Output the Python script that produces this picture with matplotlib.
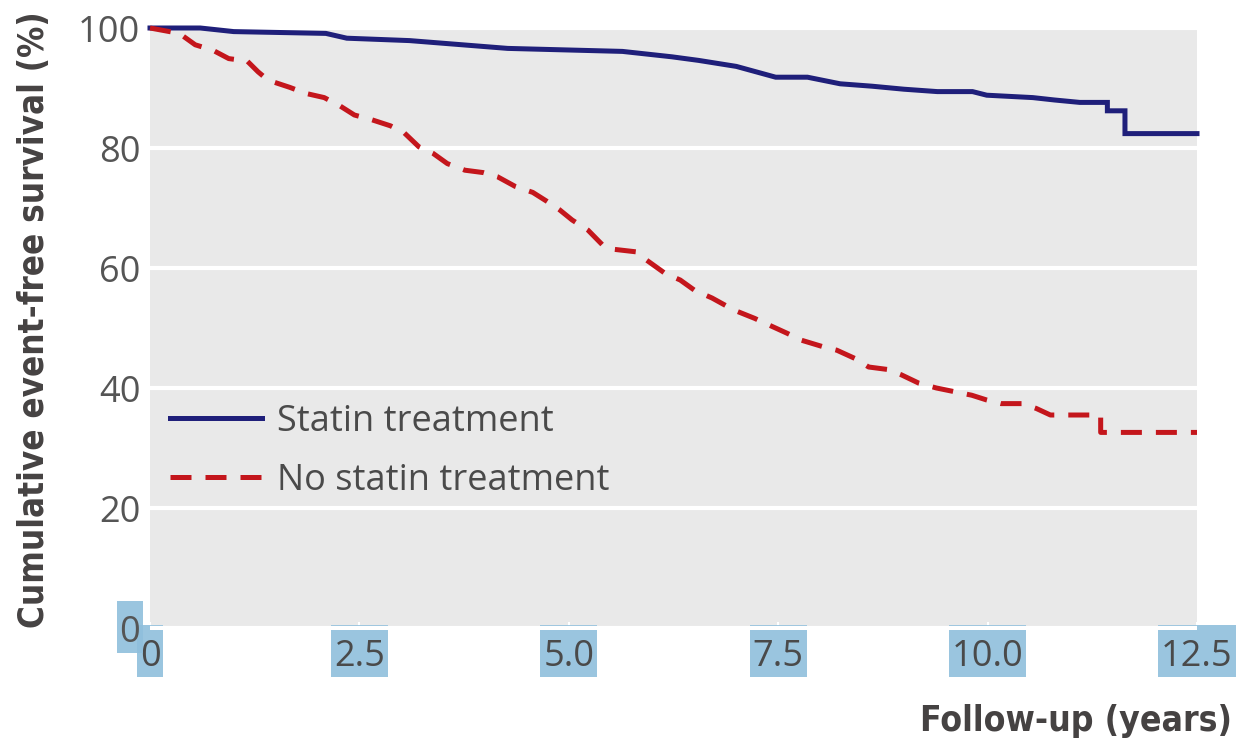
import matplotlib
matplotlib.use("Agg")
import matplotlib.pyplot as plt
from matplotlib.path import Path

# follow-up time (years) and event-free survival (%)
statin_t = [0, 0.6, 1.0, 2.1, 2.35, 3.1, 3.55, 4.27, 5.64, 6.23, 6.55, 7.0, 7.47, 7.85,
            8.24, 8.62, 9.0, 9.4, 9.82, 9.99, 10.54, 10.8, 11.1, 11.43, 11.43, 11.64,
            11.64, 12.5]
statin_s = [100, 100, 99.4, 99.1, 98.3, 97.9, 97.4, 96.6, 96.1, 95.2, 94.6, 93.6, 91.8,
            91.8, 90.7, 90.3, 89.8, 89.4, 89.4, 88.8, 88.4, 88.0, 87.6, 87.6, 86.2, 86.2,
            82.4, 82.4]

no_statin_t = [0, 0.35, 0.54, 0.75, 0.94, 1.16, 1.29, 1.41, 1.67, 1.86, 2.08, 2.27, 2.44,
               2.65, 2.87, 3.03, 3.21, 3.38, 3.55, 3.76, 3.98, 4.15, 4.36, 4.57, 4.74,
               4.89, 5.04, 5.23, 5.42, 5.55, 5.8, 5.93, 6.15, 6.33, 6.5, 6.71, 6.97, 7.22,
               7.39, 7.61, 7.77, 8.03, 8.2, 8.42, 8.58, 8.8, 8.97, 9.18, 9.39, 9.6, 9.81,
               9.99, 10.16, 10.41, 10.58, 10.75, 11.0, 11.35, 11.35, 12.5]
no_statin_s = [100, 99.1, 97.2, 96.3, 94.9, 94.5, 92.7, 91.3, 90.1, 89.1, 88.4, 87.0, 85.5,
               84.7, 83.7, 82.6, 80.2, 79.1, 77.4, 76.3, 75.9, 75.2, 73.6, 72.6, 71.1,
               69.7, 68.0, 66.3, 63.6, 63.1, 62.7, 61.3, 59.1, 58.0, 56.3, 55.0, 53.0,
               51.6, 50.5, 49.1, 48.0, 46.9, 46.3, 44.9, 43.5, 43.1, 42.2, 40.8, 40.0,
               39.4, 38.8, 38.0, 37.4, 37.4, 36.6, 35.5, 35.5, 35.5, 32.6, 32.6]

x_ticks = [0, 2.5, 5.0, 7.5, 10.0, 12.5]
x_tick_labels = ["0", "2.5", "5.0", "7.5", "10.0", "12.5"]
y_ticks = [0, 20, 40, 60, 80, 100]

plt.rcParams["font.family"] = ["Open Sans", "DejaVu Sans"]


def label_box(x0, y0, width, height, mutation_size):
    # tall highlight box behind tick labels (more room above than below)
    px, pt, pb = 3, 14, 2
    x1, y1 = x0 + width, y0 + height
    return Path([(x0 - px, y0 - pb), (x1 + px, y0 - pb), (x1 + px, y1 + pt),
                 (x0 - px, y1 + pt), (x0 - px, y0 - pb)], closed=True)


fig = plt.figure(figsize=(12.39, 7.45), dpi=100)
ax = fig.add_axes([150 / 1239, 1 - 630 / 745, 1047 / 1239, 602 / 745])
ax.set_facecolor("#e9e9e9")
for s in ax.spines.values():
    s.set_visible(False)

ax.set_xlim(0, 12.5)
ax.set_ylim(-0.33, 100)
ax.set_yticks(y_ticks)
ax.yaxis.grid(True, color="white", linewidth=3)
ax.set_axisbelow(True)

ax.plot(statin_t, statin_s, color="#1f1f7a", linewidth=3.6, label="Statin treatment",
        solid_joinstyle="miter", clip_on=False, zorder=3)
ax.plot(no_statin_t, no_statin_s, color="#c4161c", linewidth=3.6, dashes=(4.2, 2.8),
        label="No statin treatment", clip_on=False, zorder=3)

ax.set_xticks(x_ticks)
ax.set_xticklabels(x_tick_labels)
ax.tick_params(axis="x", direction="in", length=6, width=1.5, color="white",
               labelsize=26, labelcolor="#4a4a4a", pad=6.6)
ax.tick_params(axis="y", length=0, labelsize=26, labelcolor="#555555", pad=7)

box = dict(boxstyle=label_box, fc="#8fbfdc", ec="none", alpha=0.9)
for lab in ax.get_xticklabels():
    lab.set_bbox(box)
ax.get_yticklabels()[0].set_bbox(box)

leg = ax.legend(loc="center left", bbox_to_anchor=(0.0191, 0.2965), frameon=False,
                fontsize=26, handlelength=2.55, handletextpad=0.42, labelspacing=0.64,
                borderpad=0, borderaxespad=0)
for t in leg.get_texts():
    t.set_color("#4a4a4a")

fig.text(34 / 1239, 1 - 320 / 745, "Cumulative event-free survival (%)", rotation=90,
         ha="center", va="center", fontsize=25, fontweight="bold", color="#454242",
         family="DejaVu Sans", fontstretch="condensed")
fig.text(1232 / 1239, 1 - 721 / 745, "Follow-up (years)", ha="right", va="center",
         fontsize=25.5, fontweight="bold", color="#454242",
         family="DejaVu Sans", fontstretch="condensed")

fig.savefig("out.png", dpi=100)
